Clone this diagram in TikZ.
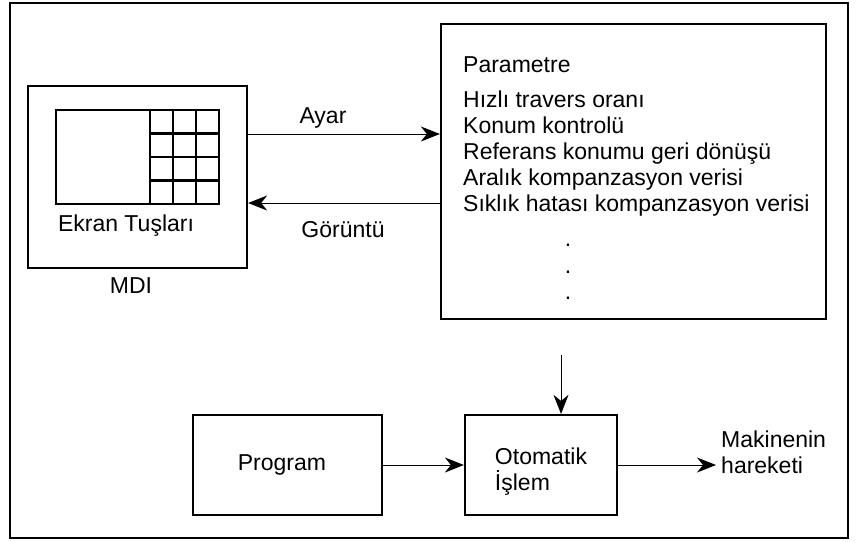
\documentclass[tikz,border=0pt]{standalone}
\usepackage{fontspec}
\setmainfont{Liberation Sans}
\usetikzlibrary{arrows.meta,positioning}
\tikzset{
  box/.style={draw, line width=2.2pt, inner sep=0pt},
  flow/.style={-{Stealth[length=19pt,width=15pt,inset=6pt]}, line width=1pt},
  lbl/.style={font=\fontsize{23}{26}\selectfont, inner sep=0pt},
}

\begin{document}
\begin{tikzpicture}[x=1pt,y=-1pt]
\useasboundingbox (0,0) rectangle (858,541);
\draw[line width=1.8pt] (10,3) rectangle (848,538);

% MDI panel with screen and keys
\node[box, minimum width=219pt, minimum height=182pt] (mdi) at (137.5,177) {};
\draw[line width=2pt] (56,110) rectangle (219,204);
\foreach \x in {150,173,196}
  \draw[line width=2.8pt] (\x,110) -- (\x,204);
\foreach \y in {133.5,157,180.5}
  \draw[line width=2.8pt] (150,\y) -- (219,\y);
\node[lbl] (keys) at (126,226) {Ekran Tuşları};
\node[lbl] (mdilbl) at (131,286) {MDI};

% parameter list
\node[box, minimum width=385pt, minimum height=295pt] (param) at (633.5,171.5) {};
\node[lbl, anchor=base west] (ptitle) at (463,72) {Parametre};
\foreach \txt [count=\i] in {Hızlı travers oranı, Konum kontrolü,
    Referans konumu geri dönüşü, Aralık kompanzasyon verisi,
    Sıklık hatası kompanzasyon verisi}
  \node[lbl, anchor=base west] (pline\i) at (463,81+26*\i) {\txt};
\foreach \y [count=\i] in {245,272,298}
  \node[lbl] (dot\i) at (568,\y) {.};

\draw[flow] ([yshift=43pt]mdi.east) -- ([yshift=43pt]mdi.east -| param.west);
\draw[flow] ([yshift=-26pt]mdi.east -| param.west) -- ([yshift=-26pt]mdi.east);
\node[lbl] (ayar) at (323,118) {Ayar};
\node[lbl] (goruntu) at (343,230) {Görüntü};

% bottom row
\node[box, minimum width=189pt, minimum height=100pt] (prog) at (287.5,465) {};
\node[lbl] (progtxt) at (282,465) {Program};
\node[box, minimum width=152pt, minimum height=100pt] (auto) at (541,465) {};
\node[lbl, align=left] (autotxt) at (541,472) {Otomatik\\İşlem};
\coordinate (pdown) at (561,355);
\coordinate (out) at (716,465);
\node[lbl, align=left, anchor=west] (mach) at (721,452) {Makinenin\\hareketi};

\draw[flow] (pdown) -- (pdown |- auto.north);
\draw[flow] (prog.east) -- (auto.west);
\draw[flow] (auto.east) -- (out);
\end{tikzpicture}
\end{document}
